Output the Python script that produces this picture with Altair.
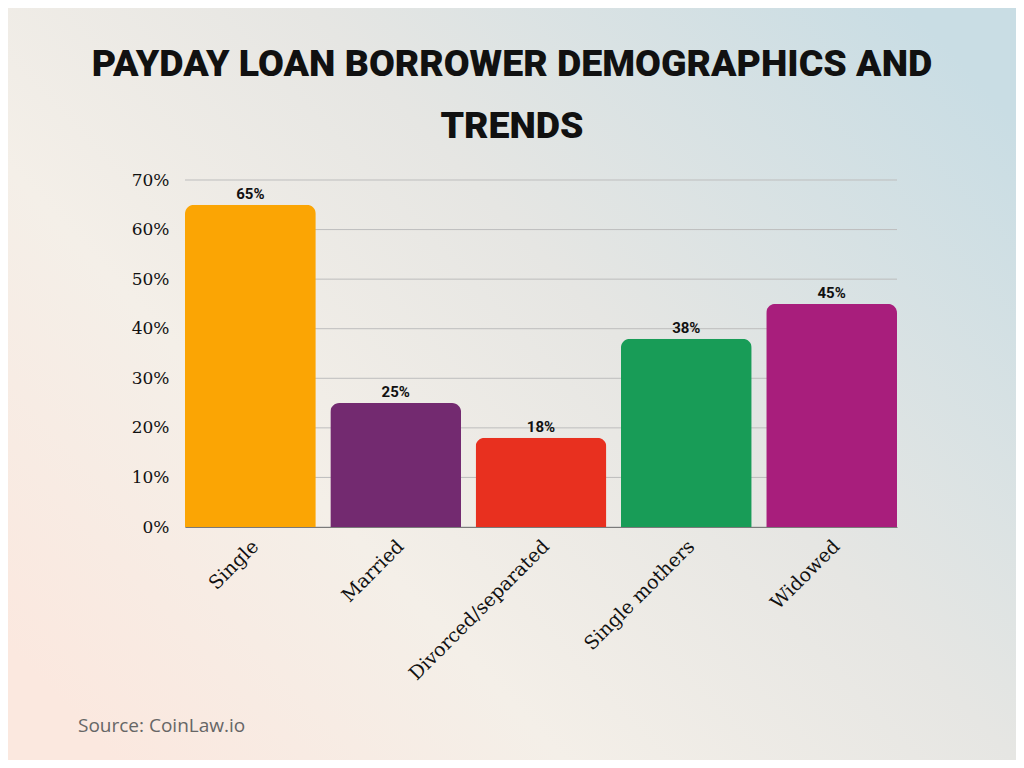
import altair as alt
import pandas as pd

# datos
categories = ["Single", "Married", "Divorced/separated", "Single mothers", "Widowed"]
shares = [65, 25, 18, 38, 45]
bar_colors = ["#FBA504", "#732A70", "#E8301F", "#189C57", "#A81E7C"]
y_ticks = [0, 10, 20, 30, 40, 50, 60, 70]
title_lines = ["PAYDAY LOAN BORROWER DEMOGRAPHICS AND", "TRENDS"]
source_note = "Source: CoinLaw.io"

W, H = 712, 347
PAD_L, PAD_T = 177, 172
PAD_R = 1008 - PAD_L - W
PAD_B = 752 - PAD_T - H

df = pd.DataFrame({"Status": categories, "Share": shares})
df["lbl"] = df["Share"].astype(str) + "%"
grid_df = pd.DataFrame({"tick": y_ticks})

heavy = "Roboto"

# fondo degradado
bg = alt.Chart(pd.DataFrame({"k": [0]})).mark_rect(
    clip=False,
    fill=alt.Gradient(
        gradient="linear",
        x1=0, y1=0.85, x2=1, y2=0.15,
        stops=[
            alt.GradientStop(color="#FBE8DF", offset=0),
            alt.GradientStop(color="#F4EFE8", offset=0.3),
            alt.GradientStop(color="#E6E6E3", offset=0.6),
            alt.GradientStop(color="#C9DDE4", offset=1),
        ],
    ),
).encode(
    x=alt.value(-PAD_L), x2=alt.value(W + PAD_R),
    y=alt.value(-PAD_T), y2=alt.value(H + PAD_B),
)

y_scale = alt.Scale(domain=[0, 70], nice=False)

grid = alt.Chart(grid_df).mark_rule(color="#BDBDBD", strokeWidth=1).encode(
    y=alt.Y("tick:Q", scale=y_scale),
    x=alt.value(0), x2=alt.value(W),
)

bars = alt.Chart(df).mark_bar(cornerRadiusTopLeft=9, cornerRadiusTopRight=9).encode(
    x=alt.X(
        "Status:N",
        sort=categories,
        title=None,
        scale=alt.Scale(paddingInner=0.1, paddingOuter=0),
        axis=alt.Axis(
            labelAngle=-45, labelAlign="right", labelBaseline="middle",
            labelFont="DejaVu Serif", labelFontSize=19, labelColor="#111111",
            labelPadding=16, labelOffset=5, labelLimit=400, ticks=False,
            domainColor="#7A7A7A", domainWidth=1.2, zindex=2,
        ),
    ),
    y=alt.Y(
        "Share:Q",
        scale=y_scale,
        title=None,
        axis=alt.Axis(
            values=y_ticks, labelExpr="datum.value + '%'", grid=False,
            domain=False, ticks=False, labelFont="DejaVu Serif",
            labelFontSize=17, labelColor="#111111", labelPadding=16, zindex=2,
        ),
    ),
    color=alt.Color("Status:N", scale=alt.Scale(domain=categories, range=bar_colors), legend=None),
)

labels = alt.Chart(df).mark_text(
    baseline="bottom", dy=-3, font=heavy, fontWeight="bold", fontSize=15, color="#111111"
).encode(
    x=alt.X("Status:N", sort=categories),
    y=alt.Y("Share:Q", scale=y_scale),
    text="lbl:N",
)

title = alt.Chart(pd.DataFrame({"k": [0]})).mark_text(
    text=title_lines, align="center", baseline="alphabetic", lineHeight=62,
    font=heavy, fontWeight=900, fontSize=37.5, color="#111111", clip=False,
).encode(x=alt.value(512 - 185), y=alt.value(76 - 180))

source = alt.Chart(pd.DataFrame({"t": [source_note]})).mark_text(
    align="left", baseline="middle", font="Open Sans", fontSize=19, color="#666666", clip=False
).encode(
    x=alt.value(78 - 185), y=alt.value(726 - 180), text="t:N"
)

chart = alt.layer(bg, grid, bars, labels, title, source).properties(
    width=W,
    height=H,
    padding={"left": PAD_L, "top": PAD_T, "right": PAD_R, "bottom": PAD_B},
    autosize=alt.AutoSizeParams(type="none"),
).configure_view(stroke=None)

chart.save("out.html", embed_options={"renderer": "svg", "actions": False})
